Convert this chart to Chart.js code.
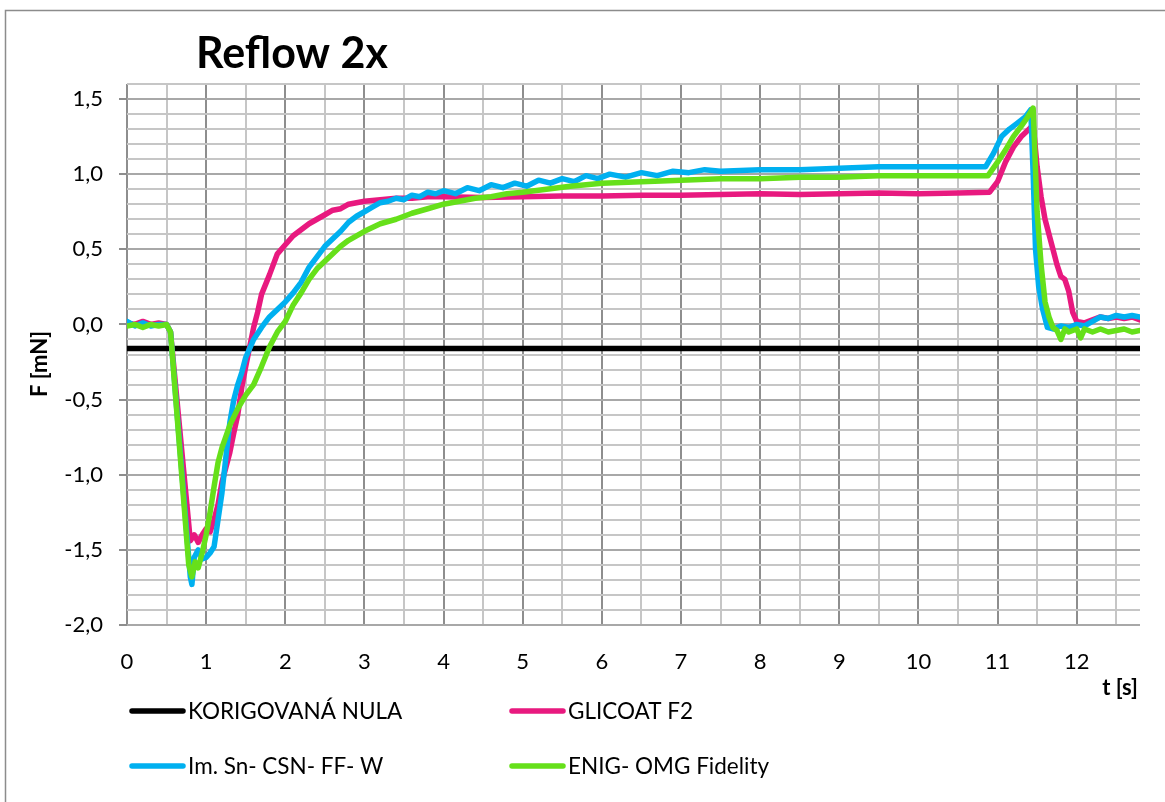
<!DOCTYPE html>
<html>
<head>
<meta charset="utf-8">
<script src="https://cdn.jsdelivr.net/npm/chart.js@4"></script>
<style>
  body { margin: 0; background: #fff; }
  #wrap { width: 1165px; height: 802px; }
</style>
</head>
<body>
<div id="wrap"><canvas id="reflowChart" width="1165" height="802"></canvas></div>
<script>
// --- data ---
const seriesNames = ['KORIGOVANÁ NULA', 'GLICOAT F2', 'Im. Sn- CSN- FF- W', 'ENIG- OMG Fidelity'];

const tNula = [0, 12.8];
const fNula = [-0.16, -0.16];

const tGlicoat = [0, 0.1, 0.2, 0.3, 0.4, 0.5, 0.55, 0.8, 0.85, 0.9, 0.95, 1.0, 1.05, 1.1, 1.15, 1.2, 1.25, 1.3, 1.35, 1.4, 1.45, 1.5, 1.55, 1.6, 1.65, 1.7, 1.8, 1.9, 2.0, 2.1, 2.2, 2.3, 2.4, 2.5, 2.6, 2.7, 2.8, 2.9, 3.0, 3.2, 3.4, 3.6, 3.8, 4.0, 4.5, 5.0, 5.5, 6.0, 6.5, 7.0, 7.5, 8.0, 8.5, 9.0, 9.5, 10.0, 10.5, 10.9, 11.0, 11.1, 11.2, 11.3, 11.4, 11.45, 11.5, 11.55, 11.6, 11.65, 11.7, 11.75, 11.8, 11.85, 11.9, 11.95, 12.0, 12.1, 12.2, 12.3, 12.4, 12.5, 12.6, 12.7, 12.8];
const fGlicoat = [0.01, 0.0, 0.02, 0.0, 0.01, 0.0, -0.05, -1.44, -1.40, -1.45, -1.40, -1.36, -1.38, -1.30, -1.20, -1.05, -0.95, -0.85, -0.72, -0.60, -0.42, -0.28, -0.15, -0.02, 0.08, 0.20, 0.33, 0.47, 0.53, 0.59, 0.63, 0.67, 0.70, 0.73, 0.76, 0.77, 0.80, 0.81, 0.82, 0.83, 0.84, 0.84, 0.85, 0.85, 0.845, 0.85, 0.855, 0.855, 0.86, 0.86, 0.865, 0.87, 0.865, 0.87, 0.875, 0.87, 0.875, 0.88, 0.95, 1.08, 1.18, 1.25, 1.30, 1.33, 1.05, 0.85, 0.70, 0.60, 0.50, 0.40, 0.32, 0.30, 0.22, 0.08, 0.02, 0.01, 0.03, 0.05, 0.04, 0.05, 0.04, 0.05, 0.03];

const tImSn = [0, 0.1, 0.2, 0.3, 0.4, 0.5, 0.55, 0.8, 0.82, 0.85, 0.9, 0.95, 1.0, 1.05, 1.1, 1.15, 1.2, 1.25, 1.3, 1.35, 1.4, 1.45, 1.5, 1.55, 1.6, 1.7, 1.8, 1.9, 2.0, 2.1, 2.2, 2.3, 2.4, 2.5, 2.6, 2.7, 2.8, 2.9, 3.0, 3.1, 3.2, 3.3, 3.4, 3.5, 3.6, 3.7, 3.8, 3.9, 4.0, 4.15, 4.3, 4.45, 4.6, 4.75, 4.9, 5.05, 5.2, 5.35, 5.5, 5.65, 5.8, 5.95, 6.1, 6.3, 6.5, 6.7, 6.9, 7.1, 7.3, 7.5, 8.0, 8.5, 9.0, 9.5, 10.0, 10.5, 10.85, 10.95, 11.05, 11.15, 11.25, 11.35, 11.42, 11.45, 11.48, 11.52, 11.57, 11.63, 11.7, 11.8, 11.9, 12.0, 12.1, 12.2, 12.3, 12.4, 12.5, 12.6, 12.7, 12.8];
const fImSn = [0.02, -0.01, 0.01, -0.01, 0.0, 0.0, -0.05, -1.68, -1.73, -1.55, -1.50, -1.56, -1.55, -1.52, -1.48, -1.30, -1.12, -0.88, -0.65, -0.50, -0.40, -0.32, -0.22, -0.16, -0.10, -0.02, 0.05, 0.10, 0.15, 0.21, 0.28, 0.38, 0.45, 0.52, 0.57, 0.62, 0.68, 0.72, 0.75, 0.78, 0.81, 0.82, 0.84, 0.83, 0.86, 0.85, 0.88, 0.87, 0.89, 0.87, 0.91, 0.89, 0.93, 0.91, 0.94, 0.92, 0.96, 0.94, 0.97, 0.95, 0.99, 0.97, 1.0, 0.98, 1.01, 0.99, 1.02, 1.01, 1.03, 1.02, 1.03, 1.03, 1.04, 1.05, 1.05, 1.05, 1.05, 1.14, 1.25, 1.30, 1.34, 1.38, 1.43, 1.0, 0.5, 0.25, 0.10, -0.02, -0.03, -0.01, -0.02, 0.0, -0.01, 0.02, 0.05, 0.04, 0.06, 0.05, 0.06, 0.05];

const tEnig = [0, 0.1, 0.2, 0.3, 0.4, 0.5, 0.55, 0.78, 0.82, 0.86, 0.9, 0.95, 1.0, 1.05, 1.1, 1.15, 1.2, 1.3, 1.4, 1.5, 1.6, 1.7, 1.8, 1.9, 2.0, 2.1, 2.2, 2.3, 2.4, 2.5, 2.6, 2.7, 2.8, 2.9, 3.0, 3.2, 3.4, 3.6, 3.8, 4.0, 4.2, 4.4, 4.6, 4.8, 5.0, 5.3, 5.6, 6.0, 6.5, 7.0, 7.5, 8.0, 8.5, 9.0, 9.5, 10.0, 10.5, 10.88, 11.0, 11.1, 11.2, 11.3, 11.38, 11.45, 11.5, 11.55, 11.6, 11.65, 11.7, 11.75, 11.8, 11.85, 11.9, 12.0, 12.05, 12.1, 12.2, 12.3, 12.4, 12.5, 12.6, 12.7, 12.8];
const fEnig = [-0.01, 0.0, -0.02, 0.0, -0.01, 0.0, -0.05, -1.60, -1.68, -1.58, -1.62, -1.52, -1.40, -1.25, -1.08, -0.92, -0.82, -0.67, -0.56, -0.47, -0.40, -0.28, -0.15, -0.05, 0.02, 0.13, 0.21, 0.30, 0.37, 0.42, 0.47, 0.52, 0.56, 0.59, 0.62, 0.67, 0.70, 0.74, 0.77, 0.80, 0.82, 0.84, 0.85, 0.87, 0.88, 0.90, 0.92, 0.94, 0.95, 0.96, 0.97, 0.97, 0.98, 0.98, 0.99, 0.99, 0.99, 0.99, 1.08, 1.16, 1.25, 1.32, 1.38, 1.44, 0.75, 0.40, 0.15, 0.05, -0.02, -0.04, -0.10, -0.03, -0.05, -0.03, -0.09, -0.03, -0.05, -0.03, -0.05, -0.04, -0.03, -0.05, -0.04];

const seriesColors = ['#000000', '#e8197f', '#00b0f0', '#66e01a'];

const xLabels = ['0', '1', '2', '3', '4', '5', '6', '7', '8', '9', '10', '11', '12'];
const yLabels = ['-2,0', '-1,5', '-1,0', '-0,5', '0,0', '0,5', '1,0', '1,5'];

const FONT = 'Lato, "Open Sans", sans-serif';

function toPoints(ts, fs) {
  return ts.map((t, i) => ({ x: t, y: fs[i] }));
}

function isMult(v, step) {
  return Math.abs(v / step - Math.round(v / step)) < 1e-6;
}

// titles, frame and legend drawn by hand
const decorPlugin = {
  id: 'decor',
  afterDraw(chart) {
    const ctx = chart.ctx;
    ctx.save();
    ctx.strokeStyle = '#8c8c8c';
    ctx.lineWidth = 1.5;
    ctx.strokeRect(5.5, 10.5, 1300, 900);

    ctx.fillStyle = '#000';
    ctx.font = 'bold 43px ' + FONT;
    ctx.textBaseline = 'alphabetic';
    ctx.textAlign = 'left';
    ctx.fillText('Reflow 2x', 196, 68);

    ctx.font = 'bold 22px ' + FONT;
    ctx.textAlign = 'center';
    ctx.textBaseline = 'middle';
    ctx.fillText('t [s]', 1120, 688);

    ctx.save();
    ctx.translate(40, 364);
    ctx.rotate(-Math.PI / 2);
    ctx.fillText('F [mN]', 0, 0);
    ctx.restore();

    const legendPos = [[130, 711], [510, 711], [130, 766], [510, 766]];
    ctx.font = '22.5px ' + FONT;
    ctx.textAlign = 'left';
    seriesNames.forEach((name, i) => {
      const [lx, ly] = legendPos[i];
      ctx.strokeStyle = seriesColors[i];
      ctx.lineWidth = 5.5;
      ctx.lineCap = 'round';
      ctx.beginPath();
      ctx.moveTo(lx + 2, ly);
      ctx.lineTo(lx + 53, ly);
      ctx.stroke();
      ctx.fillStyle = '#000';
      ctx.fillText(name, lx + 58, ly + 1);
    });
    ctx.restore();
  }
};

const allT = [tNula, tGlicoat, tImSn, tEnig];
const allF = [fNula, fGlicoat, fImSn, fEnig];

new Chart(document.getElementById('reflowChart'), {
  type: 'line',
  data: {
    datasets: seriesNames.map((name, i) => ({
      label: name,
      data: toPoints(allT[i], allF[i]),
      borderColor: seriesColors[i],
      backgroundColor: seriesColors[i],
      borderWidth: 5.5,
      pointRadius: 0,
      tension: 0,
      borderCapStyle: 'round',
      borderJoinStyle: 'round',
      order: seriesNames.length - i
    }))
  },
  options: {
    responsive: false,
    animation: false,
    devicePixelRatio: 1,
    layout: { padding: { left: 0, top: 84, right: 25, bottom: 0 } },
    plugins: {
      legend: { display: false },
      tooltip: { enabled: false },
      title: { display: false }
    },
    scales: {
      x: {
        type: 'linear',
        min: 0,
        max: 12.8,
        afterFit(scale) { scale.height = 177; },
        afterBuildTicks(scale) {
          const ticks = [];
          for (let i = 0; i <= 25; i++) ticks.push({ value: i * 0.5 });
          scale.ticks = ticks;
        },
        border: { display: false },
        grid: {
          drawTicks: false,
          lineWidth: 2,
          color: (c) => isMult(c.tick.value, 1) ? '#8e8e8e' : '#c6c6c6'
        },
        ticks: {
          padding: 24,
          maxRotation: 0,
          autoSkip: false,
          color: '#000',
          font: { family: FONT, size: 22 },
          callback: (v) => isMult(v, 1) ? xLabels[Math.round(v)] : ''
        }
      },
      y: {
        type: 'linear',
        min: -2.0,
        max: 1.6,
        afterFit(scale) { scale.width = 127; },
        afterBuildTicks(scale) {
          const ticks = [];
          for (let i = -20; i <= 16; i++) ticks.push({ value: i / 10 });
          scale.ticks = ticks;
        },
        border: { display: false },
        grid: {
          drawTicks: true,
          tickLength: 8,
          lineWidth: 2,
          tickWidth: 2,
          tickColor: (c) => isMult(c.tick.value, 0.5) ? '#8e8e8e' : 'rgba(0,0,0,0)',
          color: (c) => isMult(c.tick.value, 0.5) ? '#a8a8a8' : '#c6c6c6'
        },
        ticks: {
          padding: 16,
          autoSkip: false,
          color: '#000',
          font: { family: FONT, size: 22 },
          callback: (v) => isMult(v, 0.5) ? yLabels[Math.round((v + 2) * 2)] : ''
        }
      }
    }
  },
  plugins: [decorPlugin]
});
</script>
</body>
</html>
